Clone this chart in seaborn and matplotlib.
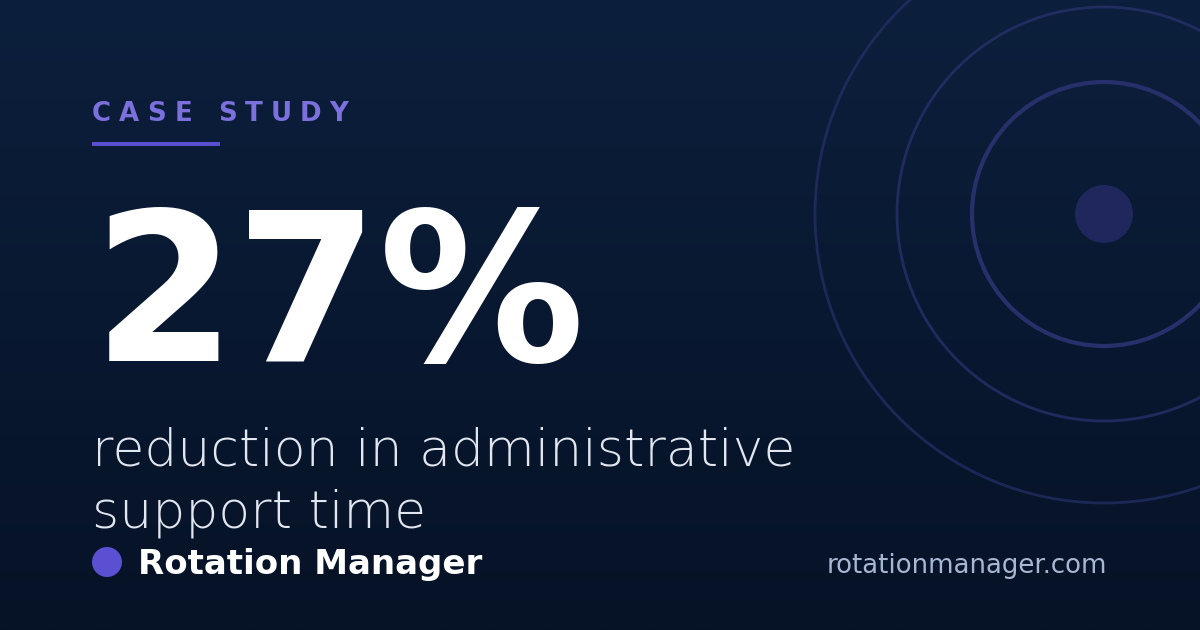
import numpy as np
import pandas as pd
import seaborn as sns
import matplotlib
matplotlib.use("Agg")
import matplotlib.pyplot as plt
from matplotlib.patches import Circle, Rectangle
from matplotlib.font_manager import FontProperties, findfont
from matplotlib.ft2font import FT2Font

# ---- content ----
eyebrow = "CASE STUDY"
headline_value = [27]
headline_unit = "%"
subtitle_lines = ["reduction in administrative", "support time"]
brand_name = "Rotation Manager"
site_url = "rotationmanager.com"

# decorative target rings (radius in px, line width, alpha)
ring_radii = [132, 207, 289]
ring_widths = [3.0, 2.0, 2.0]
ring_alphas = [1.0, 0.8, 0.7]
ring_center = [1104, 214]
dot_radius = [29]

sns.set_theme(style="white")
plt.rcParams['font.family'] = ['DejaVu Sans']

W, H = 1200, 630
fig = plt.figure(figsize=(12, 6.3), dpi=100)
ax = fig.add_axes([0, 0, 1, 1])
ax.set_xlim(0, W)
ax.set_ylim(H, 0)
ax.axis("off")

# background gradient
top = np.array([12, 31, 60]) / 255
bot = np.array([6, 18, 38]) / 255
t = np.linspace(0, 1, 256)[:, None, None]
grad = top * (1 - t) + bot * t
grad = np.repeat(grad, 2, axis=1)
ax.imshow(grad, extent=[0, W, H, 0], aspect="auto", zorder=0)

# rings
ring_color = "#27306a"
for r, lw, a in zip(ring_radii, ring_widths, ring_alphas):
    ax.add_patch(Circle(ring_center, r, fill=False, lw=lw, ec=ring_color,
                        alpha=a, zorder=1))
ax.add_patch(Circle(ring_center, dot_radius[0], color="#20275c", lw=0, zorder=1))

PX = 0.72  # px -> pt at 100 dpi

# eyebrow with letter spacing
fs_eb = 26 * PX
fp = FontProperties(family="DejaVu Sans", weight="bold", size=fs_eb)
ft = FT2Font(findfont(fp))
ft.set_size(fs_eb, 100)
x = 92
spacing = 8.2
for ch in eyebrow:
    ax.text(x, 121, ch, fontproperties=fp, color="#7b70dc", va="baseline",
            ha="left", zorder=3)
    adv = ft.load_char(ord(ch)).linearHoriAdvance / 65536
    x += adv + spacing
ax.add_patch(Rectangle((92, 142), 128, 4, color="#5a4fd0", lw=0, zorder=3))

# headline
ax.text(93, 361, f"{headline_value[0]}{headline_unit}", fontsize=206 * PX,
        fontweight="bold", color="white", va="baseline", ha="left", zorder=3)

# subtitle
for i, line in enumerate(subtitle_lines):
    ax.text(92, 465 + i * 62, line, fontsize=52 * PX, fontweight="light",
            color="#e1e6ef", va="baseline", ha="left", zorder=3)

# brand
ax.add_patch(Circle((107, 562), 15, color="#5b50d2", lw=0, zorder=3))
ax.text(138, 574, brand_name, fontsize=34 * PX, fontweight="bold",
        color="white", va="baseline", ha="left", zorder=3)
ax.text(1107, 573, site_url, fontsize=26 * PX, color="#a8b6d2",
        va="baseline", ha="right", zorder=3)

fig.savefig("out.png", dpi=100, facecolor=fig.get_facecolor())
